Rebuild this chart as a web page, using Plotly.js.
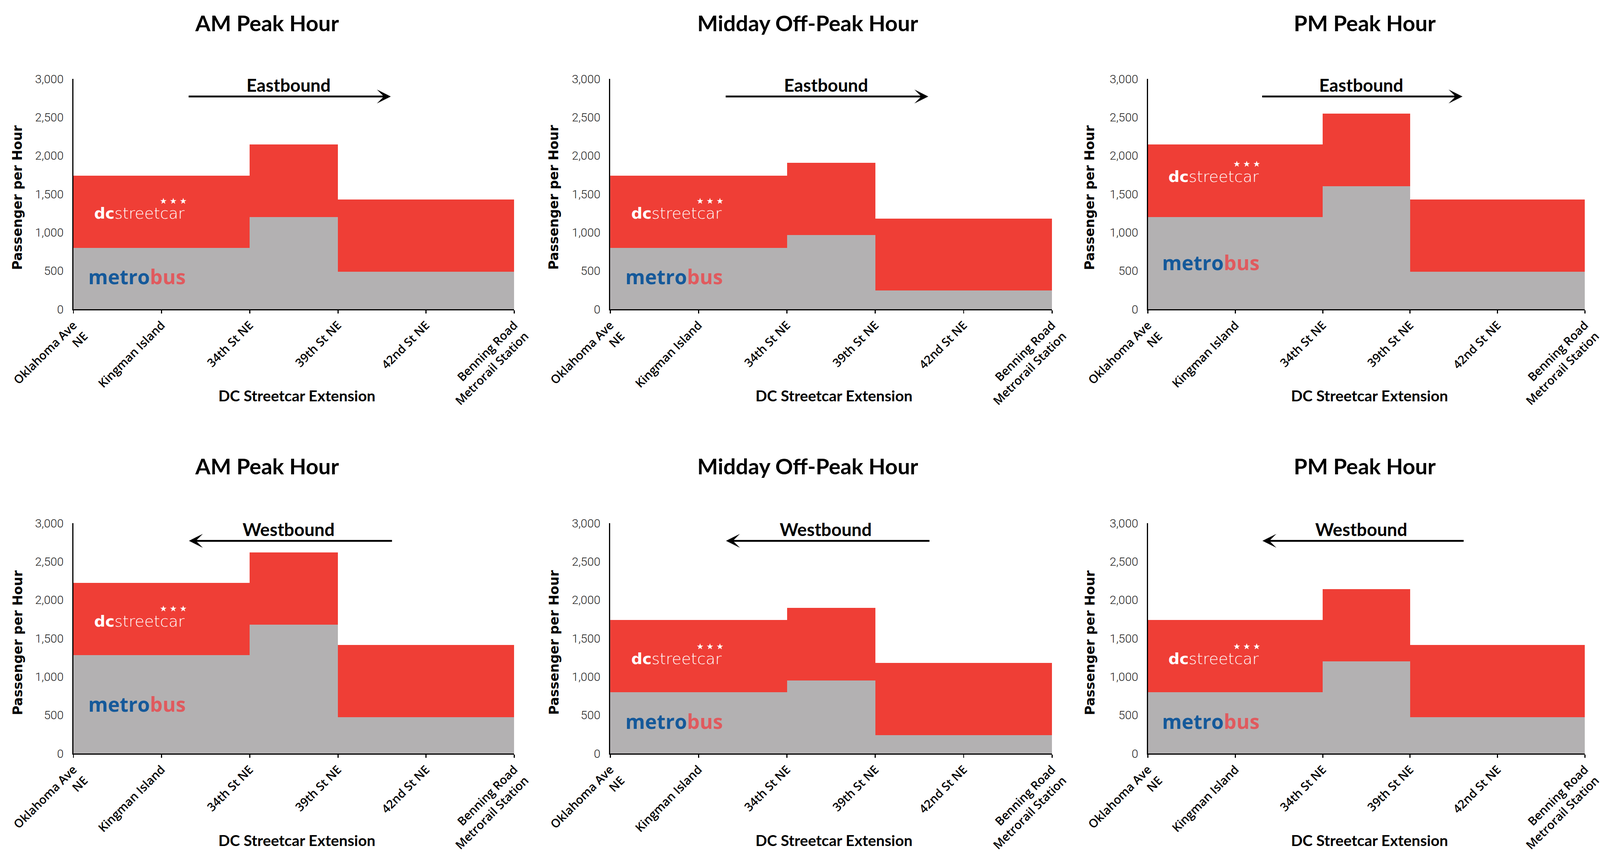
<!DOCTYPE html>
<html>
<head>
<meta charset="utf-8">
<script src="https://cdn.plot.ly/plotly-3.0.1.min.js"></script>
<style>html,body{margin:0;padding:0;background:#fff;overflow:hidden;}#chart{width:100vw;height:100vh;}</style>
</head>
<body>
<div id="chart"></div>
<script>
// ---------- data ----------
const stations = ['Oklahoma Ave<br>NE', 'Kingman Island', '34th St NE', '39th St NE', '42nd St NE', 'Benning Road<br>Metrorail Station'];
const stationIndex = [0, 1, 2, 3, 4, 5];
// segments between stations (index of start / end station)
const segStart = [0, 2, 3];
const segEnd = [2, 3, 5];

const panelTitles = ['AM Peak Hour', 'Midday Off-Peak Hour', 'PM Peak Hour', 'AM Peak Hour', 'Midday Off-Peak Hour', 'PM Peak Hour'];
const directions = ['Eastbound', 'Eastbound', 'Eastbound', 'Westbound', 'Westbound', 'Westbound'];
const yTicks = [0, 500, 1000, 1500, 2000, 2500, 3000];

const metrobusAmEast = [800, 1200, 490];
const streetcarAmEast = [940, 945, 940];
const metrobusMidEast = [800, 965, 245];
const streetcarMidEast = [940, 940, 935];
const metrobusPmEast = [1200, 1600, 490];
const streetcarPmEast = [945, 945, 940];
const metrobusAmWest = [1280, 1680, 475];
const streetcarAmWest = [940, 940, 940];
const metrobusMidWest = [800, 950, 240];
const streetcarMidWest = [940, 945, 940];
const metrobusPmWest = [800, 1200, 475];
const streetcarPmWest = [940, 940, 940];

const metrobusSets = [metrobusAmEast, metrobusMidEast, metrobusPmEast, metrobusAmWest, metrobusMidWest, metrobusPmWest];
const streetcarSets = [streetcarAmEast, streetcarMidEast, streetcarPmEast, streetcarAmWest, streetcarMidWest, streetcarPmWest];

// ---------- layout / style ----------
const W = window.innerWidth || 4315, H = window.innerHeight || 2190;
const S = Math.min(W / 4315, H / 2190);
const RED = '#EF3E36', GRAY = '#B3B1B2', BLUE = '#15599A', PINK = '#E05A5E';
const xDomains = [[0.0459, 0.3214], [0.3814, 0.6575], [0.7175, 0.9905]];
const yDomains = [[0.6384, 0.9078], [0.1187, 0.3881]];
const titleX = [0.1669, 0.505, 0.853];
const titleY = [0.9735, 0.4548];
const xTitleX = [0.1856, 0.5212, 0.856];
const xTitleY = [0.5374, 0.0174];
const yTitleX = [0.0109, 0.3462, 0.6811];
const yTitleY = [0.769, 0.2484];
// logo vertical placement per panel (axis units)
const logoDcY = [1250, 1250, 1730, 1725, 1235, 1235];
const logoBusY = [428, 428, 610, 645, 420, 420];

const centers = segStart.map((s, i) => (s + segEnd[i]) / 2);
const widths = segStart.map((s, i) => segEnd[i] - s);

const traces = [];
const layout = {
  width: W, height: H,
  margin: {l: 0, r: 0, t: 0, b: 0},
  paper_bgcolor: '#fff', plot_bgcolor: 'rgba(0,0,0,0)',
  showlegend: false,
  barmode: 'stack', bargap: 0,
  annotations: []
};

for (let i = 0; i < 6; i++) {
  const col = i % 3, row = Math.floor(i / 3);
  const sfx = i === 0 ? '' : String(i + 1);
  const xr = 'x' + sfx, yr = 'y' + sfx;
  traces.push({
    type: 'bar', x: centers, width: widths, y: metrobusSets[i], xaxis: xr, yaxis: yr,
    marker: {color: GRAY, line: {width: 0}}, name: 'Metrobus', hoverinfo: 'y'
  });
  traces.push({
    type: 'bar', x: centers, width: widths, y: streetcarSets[i], xaxis: xr, yaxis: yr,
    marker: {color: RED, line: {width: 0}}, name: 'DC Streetcar', hoverinfo: 'y'
  });
  layout['xaxis' + sfx] = {
    domain: xDomains[col], anchor: yr, range: [0, 5],
    tickmode: 'array', tickvals: stationIndex, ticktext: stations, tickangle: -45,
    ticks: 'outside', ticklen: 9 * S, tickwidth: 3 * S, tickcolor: '#000',
    showline: true, linecolor: '#000', linewidth: 3 * S, showgrid: false, zeroline: false,
    tickfont: {family: 'Open Sans', size: 32 * S, color: '#000', weight: 600},
    ticklabeloverflow: 'allow', fixedrange: true
  };
  // labelled axis: invisible outside ticks give the gap between numbers and axis line
  layout['yaxis' + sfx] = {
    domain: yDomains[row], anchor: xr, range: [0, 3000],
    tickmode: 'array', tickvals: yTicks, tickformat: ',',
    ticks: 'outside', ticklen: 17 * S, tickwidth: 1, tickcolor: 'rgba(0,0,0,0)',
    showline: true, linecolor: '#000', linewidth: 3 * S, showgrid: false, zeroline: false,
    tickfont: {family: 'Roboto', size: 32 * S, color: '#222', weight: 300},
    fixedrange: true
  };
  // companion axis drawing the short inside tick marks
  layout['yaxis' + (i + 7)] = {
    domain: yDomains[row], anchor: xr, overlaying: yr, side: 'left', range: [0, 3000],
    tickmode: 'array', tickvals: yTicks, showticklabels: false,
    ticks: 'inside', ticklen: 9 * S, tickwidth: 3 * S, tickcolor: '#000',
    showline: false, showgrid: false, zeroline: false, fixedrange: true
  };
  const A = layout.annotations;
  A.push({xref: 'paper', yref: 'paper', x: titleX[col], y: titleY[row], text: '<b>' + panelTitles[i] + '</b>',
    showarrow: false, xanchor: 'center', yanchor: 'middle', font: {family: 'Lato', size: 59 * S, color: '#000'}});
  A.push({xref: 'paper', yref: 'paper', x: xTitleX[col], y: xTitleY[row], text: '<b>DC Streetcar Extension</b>',
    showarrow: false, xanchor: 'center', yanchor: 'middle', font: {family: 'Lato', size: 41 * S, color: '#000'}});
  A.push({xref: 'paper', yref: 'paper', x: yTitleX[col], y: yTitleY[row], text: '<b>Passenger per Hour</b>', textangle: -90,
    showarrow: false, xanchor: 'center', yanchor: 'middle', font: {family: 'DejaVu Sans', size: 35 * S, color: '#000'}});
  // direction label + arrow
  A.push({xref: xr, yref: yr, x: 2.44, y: 2920, text: '<b>' + directions[i] + '</b>', showarrow: false,
    xanchor: 'center', yanchor: 'middle', font: {family: 'Lato', size: 48 * S, color: '#000'}});
  const east = directions[i] === 'Eastbound';
  A.push({xref: xr, yref: yr, axref: xr, ayref: yr,
    x: east ? 3.60 : 1.31, y: 2770, ax: east ? 1.30 : 3.62, ay: 2770, text: '',
    showarrow: true, arrowhead: 3, arrowsize: 1.25, arrowwidth: 5 * S, arrowcolor: '#000', standoff: 0, startstandoff: 0});
  // logos
  A.push({xref: xr, yref: yr, x: 0.75, y: logoDcY[i], text: '<b>dc</b>streetcar', showarrow: false,
    xanchor: 'center', yanchor: 'middle', font: {family: 'DejaVu Sans', size: 42 * S, color: '#fff', weight: 200}});
  A.push({xref: xr, yref: yr, x: 1.13, y: logoDcY[i] + 160, text: '★ ★ ★', showarrow: false,
    xanchor: 'center', yanchor: 'middle', font: {family: 'DejaVu Sans', size: 22 * S, color: '#fff'}});
  A.push({xref: xr, yref: yr, x: 0.72, y: logoBusY[i],
    text: '<span style="color:' + BLUE + '">metro</span><span style="color:' + PINK + '">bus</span>', showarrow: false,
    xanchor: 'center', yanchor: 'middle', font: {family: 'Open Sans', size: 54 * S, color: BLUE, weight: 700}});
}

Plotly.newPlot('chart', traces, layout, {displayModeBar: false, staticPlot: true});
</script>
</body>
</html>
